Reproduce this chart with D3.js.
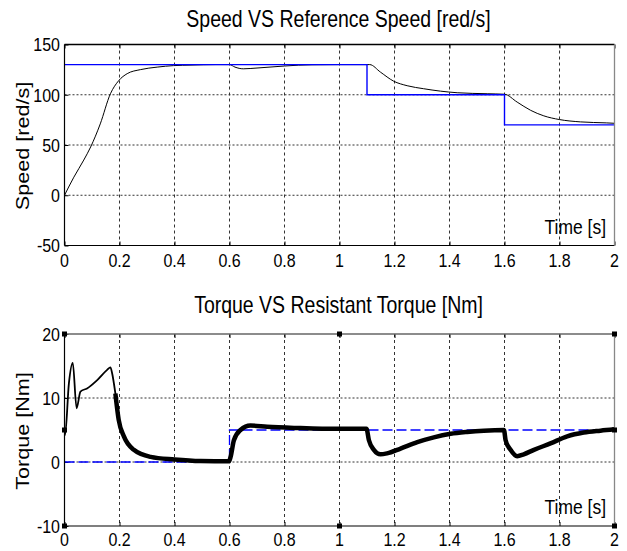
<!DOCTYPE html>
<html>
<head>
<meta charset="utf-8">
<script src="https://cdn.jsdelivr.net/npm/d3@7"></script>
<style>
  html,body{margin:0;padding:0;background:#fff;}
  svg{display:block;}
  text{font-family:"Liberation Sans",Arial,Helvetica,sans-serif;fill:#000;}
</style>
</head>
<body>
<svg id="chart" width="627" height="551"></svg>
<script>
// ---------- data ----------
const timeTicks = [0,0.2,0.4,0.6,0.8,1,1.2,1.4,1.6,1.8,2];
const speedTicks = [-50,0,50,100,150];
const torqueTicks = [-10,0,10,20];

const refSpeedT = [0,1.1,1.1,1.6,1.6,2];
const refSpeedV = [130,130,100,100,70,70];

const speedT = [0,0.034,0.07,0.095,0.13,0.167,0.197,0.228,0.276,0.337,0.397,0.46,0.55,0.6,0.62,0.65,0.7,0.8,0.85,0.9,1.0,1.1,1.11,1.149,1.197,1.246,1.306,1.367,1.428,1.537,1.6,1.646,1.695,1.743,1.8,1.876,1.97,2.0];
const speedV = [0,18,35,48,71,101,114,121,125,127.5,129,129.5,130,130,127.5,125.8,126.6,128.6,129.4,129.8,130,130,130,122.5,113.5,109,106,103.6,102,101,100.5,92.7,84.5,79,75.3,73,72,71.6];

const refTorqueT = [0,0.6,0.6,2];
const refTorqueV = [0,0,5,5];

const torqueT = [0,0.002,0.016,0.03,0.044,0.058,0.082,0.119,0.155,0.167,0.173,0.185,0.197,0.216,0.252,0.313,0.4,0.495,0.598,0.604,0.616,0.64,0.676,0.737,0.858,0.95,1.098,1.107,1.125,1.149,1.173,1.222,1.283,1.343,1.404,1.464,1.525,1.598,1.604,1.622,1.646,1.67,1.707,1.767,1.828,1.888,1.949,2.0];
const torqueV = [4.2,4.2,12.3,15.5,8.4,11,11.5,12.8,14.4,14.8,13.9,10.7,6.6,4,1.9,0.8,0.4,0.15,0.1,0.8,3.4,5,5.7,5.5,5.3,5.2,5.2,3.4,1.9,1.2,1.35,2.1,3.1,3.85,4.4,4.7,4.9,5.0,3.4,1.9,0.9,1.2,1.9,2.9,4,4.6,4.9,5.1];

// ---------- layout ----------
const svg = d3.select("#chart");
const X0 = 64.5, X1 = 614.5;
const x = d3.scaleLinear().domain([0,2]).range([X0,X1]);

function txt(g, str, tx, ty, size, anchor, rotate) {
  const t = g.append("text")
    .attr("text-anchor", anchor)
    .attr("font-size", size)
    .text(str);
  if (rotate) t.attr("transform", `translate(${tx},${ty}) rotate(-90) scale(1.2,1)`);
  else t.attr("transform", `translate(${tx},${ty}) scale(1,1.2)`);
  return t;
}

function panel(opts) {
  const y = d3.scaleLinear().domain(opts.domain).range([opts.yBottom, opts.yTop]);
  const g = svg.append("g");
  const id = "clip" + opts.key;
  svg.append("defs").append("clipPath").attr("id", id)
    .append("rect").attr("x", X0).attr("y", opts.yTop).attr("width", X1 - X0).attr("height", opts.yBottom - opts.yTop);

  // grid
  const grid = g.append("g");
  timeTicks.slice(1, -1).forEach(t => {
    grid.append("line").attr("x1", x(t)).attr("x2", x(t)).attr("y1", opts.yTop).attr("y2", opts.yBottom)
      .attr("stroke", "#333").attr("stroke-width", 1).attr("stroke-dasharray", "3,3");
  });
  opts.yTicks.slice(1, -1).forEach(v => {
    grid.append("line").attr("x1", X0).attr("x2", X1).attr("y1", y(v)).attr("y2", y(v))
      .attr("stroke", "#333").attr("stroke-width", 1).attr("stroke-dasharray", "2,2");
  });

  // axes via d3 axis (inward ticks)
  const xa = d3.axisBottom(x).tickValues(timeTicks).tickSize(-4).tickFormat("");
  g.append("g").attr("transform", `translate(0,${opts.yBottom})`).call(xa)
    .call(s => { s.select(".domain").remove(); s.selectAll("line").attr("stroke", "#000"); });
  const xaT = d3.axisTop(x).tickValues(timeTicks).tickSize(-4).tickFormat("");
  g.append("g").attr("transform", `translate(0,${opts.yTop})`).call(xaT)
    .call(s => { s.select(".domain").remove(); s.selectAll("line").attr("stroke", "#000"); });
  const ya = d3.axisLeft(y).tickValues(opts.yTicks).tickSize(-4).tickFormat("");
  g.append("g").attr("transform", `translate(${X0},0)`).call(ya)
    .call(s => { s.select(".domain").remove(); s.selectAll("line").attr("stroke", "#000"); });

  // tick labels
  timeTicks.forEach(t => txt(g, String(t), x(t), opts.xLabelBase, 16, "middle"));
  opts.yTicks.forEach(v => txt(g, String(v), 60, y(v) + 6.8, 16, "end"));

  // lines
  const lineGen = (curve) => d3.line().x(d => x(d[0])).y(d => y(d[1])).curve(curve);
  const lines = g.append("g").attr("clip-path", `url(#${id})`);
  opts.draw(lines, lineGen, y);

  // box
  g.append("line").attr("x1", X0).attr("x2", X1).attr("y1", opts.yTop).attr("y2", opts.yTop).attr("stroke", opts.topColor).attr("stroke-width", 1.3);
  g.append("line").attr("x1", X0).attr("x2", X1).attr("y1", opts.yBottom).attr("y2", opts.yBottom).attr("stroke", "#000").attr("stroke-width", 1.2);
  g.append("line").attr("x1", X0).attr("x2", X0).attr("y1", opts.yTop).attr("y2", opts.yBottom).attr("stroke", "#000").attr("stroke-width", 1.2);
  g.append("line").attr("x1", X1).attr("x2", X1).attr("y1", opts.yTop).attr("y2", opts.yBottom).attr("stroke", "#888").attr("stroke-width", 1.3);

  // text
  txt(g, opts.title, (X0 + X1) / 2 - 1, opts.titleBase, 19.5, "middle");
  txt(g, opts.ylabel, 29, (opts.yTop + opts.yBottom) / 2 + 1, 18, "middle", true);
  txt(g, "Time [s]", 606, opts.yBottom - 12, 17.5, "end");
  return {g, y};
}

// top panel
panel({
  key: "s", domain: [-50,150], yTop: 44.5, yBottom: 245.5, yTicks: speedTicks,
  xLabelBase: 267, titleBase: 27, topColor: "#000",
  title: "Speed VS Reference Speed [red/s]", ylabel: "Speed [red/s]",
  draw: (L, lineGen) => {
    const sp = speedT.map((t, i) => [t, speedV[i]]);
    L.append("path").attr("d", lineGen(d3.curveMonotoneX)(sp)).attr("fill", "none").attr("stroke", "#000").attr("stroke-width", 1);
    const ref = refSpeedT.map((t, i) => [t, refSpeedV[i]]);
    L.append("path").attr("d", lineGen(d3.curveLinear)(ref)).attr("fill", "none").attr("stroke", "#0000ff").attr("stroke-width", 1.4);
  }
});

// bottom panel
const bottom = panel({
  key: "t", domain: [-10,20], yTop: 334, yBottom: 526, yTicks: torqueTicks,
  xLabelBase: 546, titleBase: 313, topColor: "#666",
  title: "Torque VS Resistant Torque [Nm]", ylabel: "Torque [Nm]",
  draw: (L, lineGen) => {
    const ref = refTorqueT.map((t, i) => [t, refTorqueV[i]]);
    L.append("path").attr("d", lineGen(d3.curveLinear)(ref)).attr("fill", "none").attr("stroke", "#0000ff").attr("stroke-width", 1.3).attr("stroke-dasharray", "10,4");
    const tq = torqueT.map((t, i) => [t, torqueV[i]]);
    const thin = tq.filter(d => d[0] <= 0.2);
    const thick = tq.filter(d => d[0] >= 0.185);
    L.append("path").attr("d", lineGen(d3.curveMonotoneX)(thin)).attr("fill", "none").attr("stroke", "#000").attr("stroke-width", 1.8);
    L.append("path").attr("d", lineGen(d3.curveMonotoneX)(thick)).attr("fill", "none").attr("stroke", "#000").attr("stroke-width", 4.5).attr("stroke-linejoin", "round");
  }
});

// selection handles on bottom axes
const handles = [[X0, 334],[(X0+X1)/2, 334],[X1, 334],[X0, (334+526)/2],[X1, (334+526)/2],[X0, 526],[(X0+X1)/2, 526],[X1, 526]];
svg.append("g").selectAll("rect").data(handles).join("rect")
  .attr("x", d => d[0] - 2.5).attr("y", d => d[1] - 2.5).attr("width", 5).attr("height", 5)
  .attr("fill", "#000");
</script>
</body>
</html>
